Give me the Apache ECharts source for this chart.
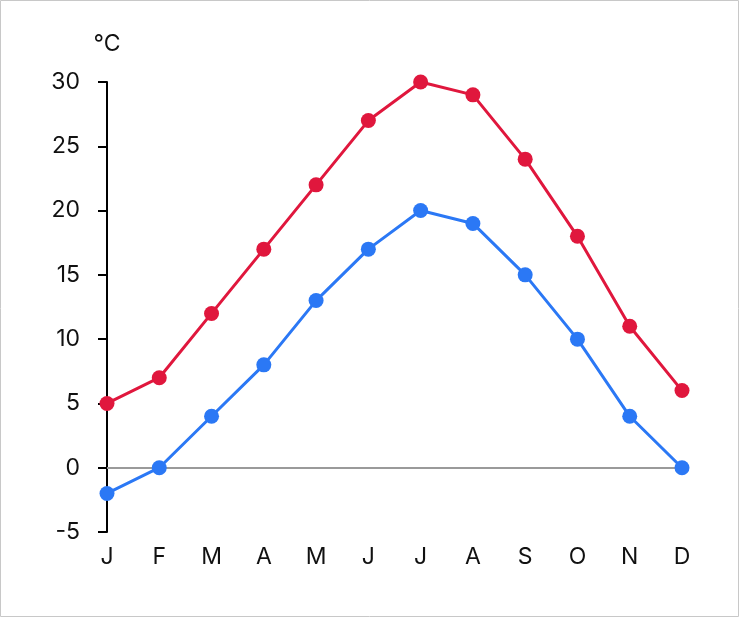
<!DOCTYPE html>
<html><head><meta charset="utf-8">
<script src="https://cdn.jsdelivr.net/npm/echarts@6/dist/echarts.min.js"></script>
<style>html,body{margin:0;padding:0;background:#fff}#c{width:739px;height:617px}</style>
</head><body><div id="c"></div>
<script>
const months = ['J','F','M','A','M','J','J','A','S','O','N','D'];
const highTemps = [5,7,12,17,22,27,30,29,24,18,11,6];
const lowTemps = [-2,0,4,8,13,17,20,19,15,10,4,0];
const unitLabel = '°C';

const font = 'Inter, "Liberation Sans", Arial, sans-serif';
const chart = echarts.init(document.getElementById('c'), null, {renderer:'canvas'});
chart.setOption({
  animation:false,
  backgroundColor:'#fff',
  graphic:[{type:'rect',shape:{x:0.5,y:0.5,width:738,height:616},style:{fill:'none',stroke:'#c8c8c8',lineWidth:1},silent:true}],
  grid:{left:107,right:57,top:82,bottom:85,containLabel:false},
  xAxis:{type:'category',data:months,boundaryGap:false,
    axisLine:{show:false,onZero:false},axisTick:{show:false},
    axisLabel:{margin:14,fontSize:23,color:'#111',fontFamily:font},
    splitLine:{show:false}},
  yAxis:{type:'value',min:-5,max:30,interval:5,
    name:unitLabel,nameLocation:'end',nameGap:26,
    nameTextStyle:{fontSize:23,color:'#111',fontFamily:font,align:'center'},
    axisLine:{show:true,lineStyle:{color:'#000',width:2}},
    axisTick:{show:true,length:9,lineStyle:{color:'#000',width:2}},
    axisLabel:{margin:27,fontSize:23,color:'#111',fontFamily:font},
    splitLine:{show:false}},
  series:[
    {type:'line',data:highTemps,symbol:'circle',symbolSize:15,
      itemStyle:{color:'#E0173D'},lineStyle:{color:'#E0173D',width:3},z:3},
    {type:'line',data:lowTemps,symbol:'circle',symbolSize:15,
      itemStyle:{color:'#2B78F5'},lineStyle:{color:'#2B78F5',width:3},z:3,
      markLine:{silent:true,symbol:'none',label:{show:false},
        lineStyle:{color:'#9a9a9a',type:'solid',width:2},
        data:[{yAxis:0}],z:1}}
  ]
});
</script></body></html>
